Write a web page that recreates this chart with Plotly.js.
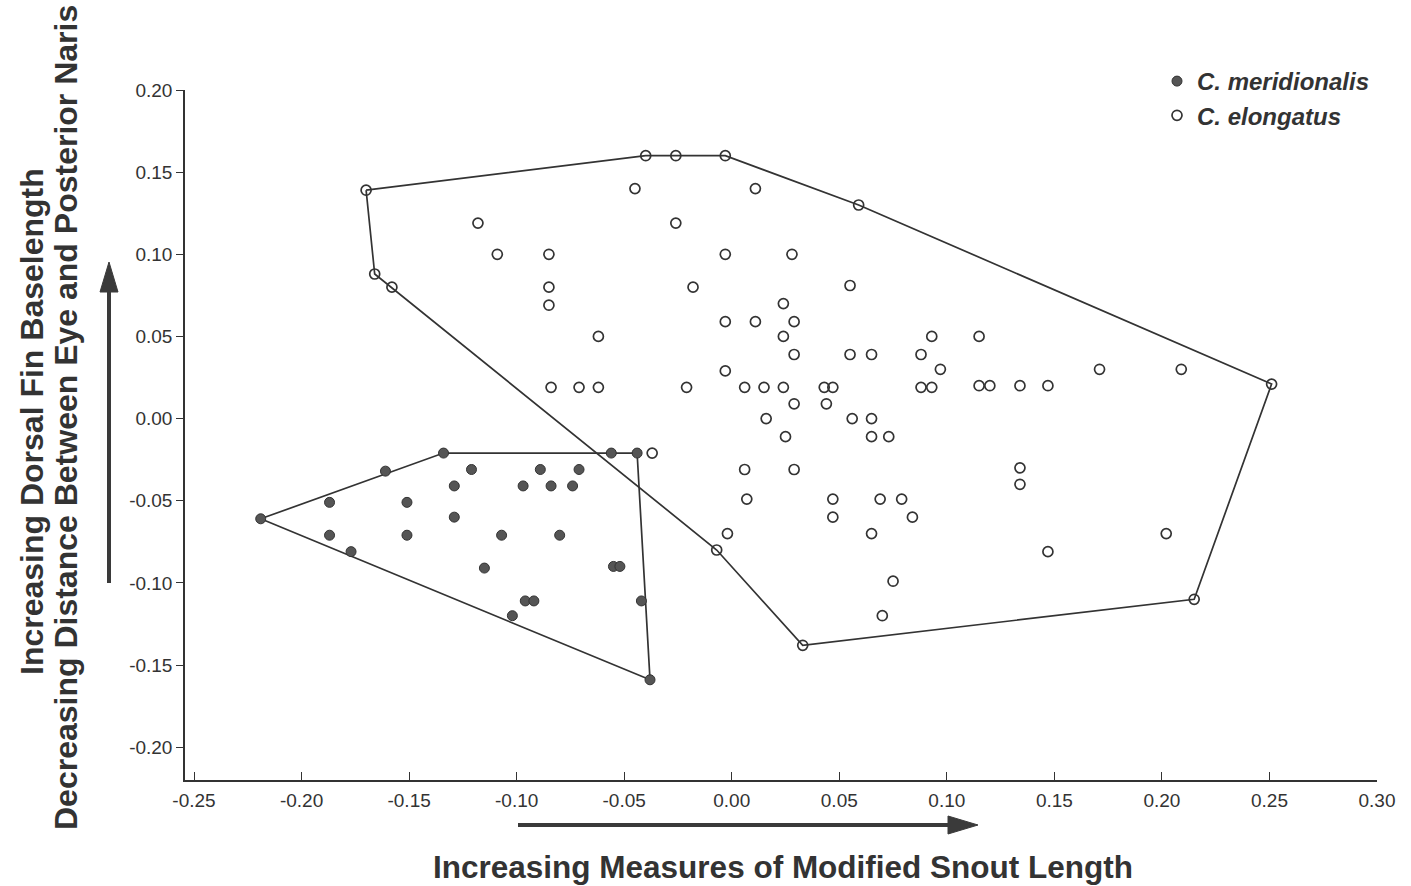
<!DOCTYPE html>
<html>
<head>
<meta charset="utf-8">
<script src="https://cdn.plot.ly/plotly-3.0.1.min.js"></script>
<style>
  html, body { margin: 0; padding: 0; background: #ffffff; }
  #chart { width: 1411px; height: 886px; }
</style>
</head>
<body>
<div id="chart"></div>
<script>
// ---- Data ----
const meridionalisX = [-0.219, -0.187, -0.187, -0.177, -0.161, -0.151, -0.151, -0.134, -0.121, -0.129,
  -0.129, -0.115, -0.107, -0.097, -0.089, -0.084, -0.080, -0.074, -0.071, -0.096,
  -0.092, -0.102, -0.056, -0.044, -0.055, -0.052, -0.042, -0.038];
const meridionalisY = [-0.061, -0.051, -0.071, -0.081, -0.032, -0.051, -0.071, -0.021, -0.031, -0.041,
  -0.060, -0.091, -0.071, -0.041, -0.031, -0.041, -0.071, -0.041, -0.031, -0.111,
  -0.111, -0.120, -0.021, -0.021, -0.090, -0.090, -0.111, -0.159];
// polygon enclosing C. meridionalis (indices into the arrays above)
const meridionalisHull = [0, 7, 23, 27, 0];

const elongatusX = [-0.170, -0.040, -0.026, -0.003, -0.045, 0.011, 0.059, -0.118, -0.026, -0.109,
  -0.085, -0.003, 0.028, -0.166, -0.158, -0.085, -0.018, 0.055, -0.085, 0.024,
  -0.003, 0.011, 0.029, -0.062, 0.024, 0.093, 0.115, 0.029, 0.055, 0.065,
  0.088, -0.003, 0.097, 0.171, 0.209, -0.084, -0.071, -0.062, -0.021, 0.006,
  0.015, 0.024, 0.043, 0.047, 0.088, 0.093, 0.115, 0.120, 0.134, 0.147,
  0.251, 0.029, 0.044, 0.016, 0.056, 0.065, 0.025, 0.065, 0.073, -0.037,
  0.006, 0.029, 0.134, 0.134, 0.007, 0.047, 0.069, 0.079, 0.047, 0.084,
  -0.002, 0.065, 0.202, -0.007, 0.147, 0.075, 0.070, 0.033, 0.215];
const elongatusY = [0.139, 0.160, 0.160, 0.160, 0.140, 0.140, 0.130, 0.119, 0.119, 0.100,
  0.100, 0.100, 0.100, 0.088, 0.080, 0.080, 0.080, 0.081, 0.069, 0.070,
  0.059, 0.059, 0.059, 0.050, 0.050, 0.050, 0.050, 0.039, 0.039, 0.039,
  0.039, 0.029, 0.030, 0.030, 0.030, 0.019, 0.019, 0.019, 0.019, 0.019,
  0.019, 0.019, 0.019, 0.019, 0.019, 0.019, 0.020, 0.020, 0.020, 0.020,
  0.021, 0.009, 0.009, 0.000, 0.000, 0.000, -0.011, -0.011, -0.011, -0.021,
  -0.031, -0.031, -0.030, -0.040, -0.049, -0.049, -0.049, -0.049, -0.060, -0.060,
  -0.070, -0.070, -0.070, -0.080, -0.081, -0.099, -0.120, -0.138, -0.110];
// polygon enclosing C. elongatus (indices into the arrays above)
const elongatusHull = [0, 1, 2, 3, 6, 50, 78, 77, 73, 14, 13, 0];

const seriesNames = ['C. meridionalis', 'C. elongatus'];
const xTickVals = [-0.25, -0.20, -0.15, -0.10, -0.05, 0.00, 0.05, 0.10, 0.15, 0.20, 0.25, 0.30];
const xTickText = ['-0.25', '-0.20', '-0.15', '-0.10', '-0.05', '0.00', '0.05', '0.10', '0.15', '0.20', '0.25', '0.30'];
const yTickVals = [-0.20, -0.15, -0.10, -0.05, 0.00, 0.05, 0.10, 0.15, 0.20];
const yTickText = ['-0.20', '-0.15', '-0.10', '-0.05', '0.00', '0.05', '0.10', '0.15', '0.20'];
const xTitle = 'Increasing Measures of Modified Snout Length';
const yTitleLine1 = 'Increasing Dorsal Fin Baselength';
const yTitleLine2 = 'Decreasing Distance Between Eye and Posterior Naris';

// ---- Layout geometry ----
const W = 1411, H = 886;
const M = { l: 185, r: 34, t: 90, b: 106 };
const plotW = W - M.l - M.r, plotH = H - M.t - M.b;
const px = v => (v - M.l) / plotW;          // page pixel -> paper x
const py = v => (H - M.b - v) / plotH;      // page pixel -> paper y

const FONT = 'Liberation Sans, Arial, Helvetica, sans-serif';
const INK = '#333333';

function pick(arr, idx) { return idx.map(i => arr[i]); }

const traces = [
  {
    x: pick(meridionalisX, meridionalisHull), y: pick(meridionalisY, meridionalisHull),
    type: 'scatter', mode: 'lines', showlegend: false, hoverinfo: 'skip',
    line: { color: INK, width: 1.7 }
  },
  {
    x: pick(elongatusX, elongatusHull), y: pick(elongatusY, elongatusHull),
    type: 'scatter', mode: 'lines', showlegend: false, hoverinfo: 'skip',
    line: { color: INK, width: 1.7 }
  },
  {
    name: seriesNames[0], x: meridionalisX, y: meridionalisY,
    type: 'scatter', mode: 'markers',
    marker: { symbol: 'circle', size: 10, color: '#555555', line: { color: '#333333', width: 1 } }
  },
  {
    name: seriesNames[1], x: elongatusX, y: elongatusY,
    type: 'scatter', mode: 'markers',
    marker: { symbol: 'circle-open', size: 10, color: '#333333', line: { color: '#333333', width: 1.7 } }
  }
];

function seg(x0, y0, x1, y1, w) {
  return { type: 'line', xref: 'paper', yref: 'paper', x0: px(x0), y0: py(y0), x1: px(x1), y1: py(y1),
           line: { color: '#3a3a3a', width: w } };
}
function tri(pts) {
  const d = 'M ' + pts.map(p => px(p[0]) + ',' + py(p[1])).join(' L ') + ' Z';
  return { type: 'path', xref: 'paper', yref: 'paper', path: d,
           fillcolor: '#3a3a3a', line: { color: '#3a3a3a', width: 1 } };
}

const layout = {
  width: W, height: H,
  margin: M,
  paper_bgcolor: '#ffffff', plot_bgcolor: '#ffffff',
  font: { family: FONT, color: INK },
  showlegend: true,
  legend: {
    x: px(1157), y: py(59), xanchor: 'left', yanchor: 'top',
    bgcolor: 'rgba(0,0,0,0)', borderwidth: 0,
    font: { family: FONT, size: 24, weight: 'bold', style: 'italic', color: INK },
    itemwidth: 30
  },
  xaxis: {
    range: [-0.2542, 0.30], showgrid: false, zeroline: false,
    showline: true, linecolor: INK, linewidth: 1.5,
    ticks: 'inside', ticklen: 8, tickwidth: 1.2, tickcolor: INK,
    tickvals: xTickVals, ticktext: xTickText, ticklabelstandoff: 2,
    tickfont: { family: FONT, size: 19, color: INK }
  },
  yaxis: {
    range: [-0.22, 0.20], showgrid: false, zeroline: false,
    showline: true, linecolor: INK, linewidth: 1.5,
    ticks: 'outside', ticklen: 7, tickwidth: 1.2, tickcolor: INK,
    tickvals: yTickVals, ticktext: yTickText,
    tickfont: { family: FONT, size: 19, color: INK }
  },
  annotations: [
    { text: '<b>' + xTitle + '</b>', xref: 'paper', yref: 'paper', x: px(783), y: py(867),
      xanchor: 'center', yanchor: 'middle', showarrow: false,
      font: { family: FONT, size: 31.5, color: INK } },
    { text: '<b>' + yTitleLine1 + '</b>', xref: 'paper', yref: 'paper', x: px(32), y: py(422),
      xanchor: 'center', yanchor: 'middle', showarrow: false, textangle: -90,
      font: { family: FONT, size: 32, color: INK } },
    { text: '<b>' + yTitleLine2 + '</b>', xref: 'paper', yref: 'paper', x: px(66), y: py(418),
      xanchor: 'center', yanchor: 'middle', showarrow: false, textangle: -90,
      font: { family: FONT, size: 32, color: INK } }
  ],
  shapes: [
    seg(109, 583, 109, 288, 4),
    tri([[100, 292], [109, 262], [118, 292]]),
    seg(518, 825, 950, 825, 4),
    tri([[948, 816], [978, 825], [948, 834]])
  ]
};

Plotly.newPlot('chart', traces, layout, { displayModeBar: false, responsive: false });
</script>
</body>
</html>
